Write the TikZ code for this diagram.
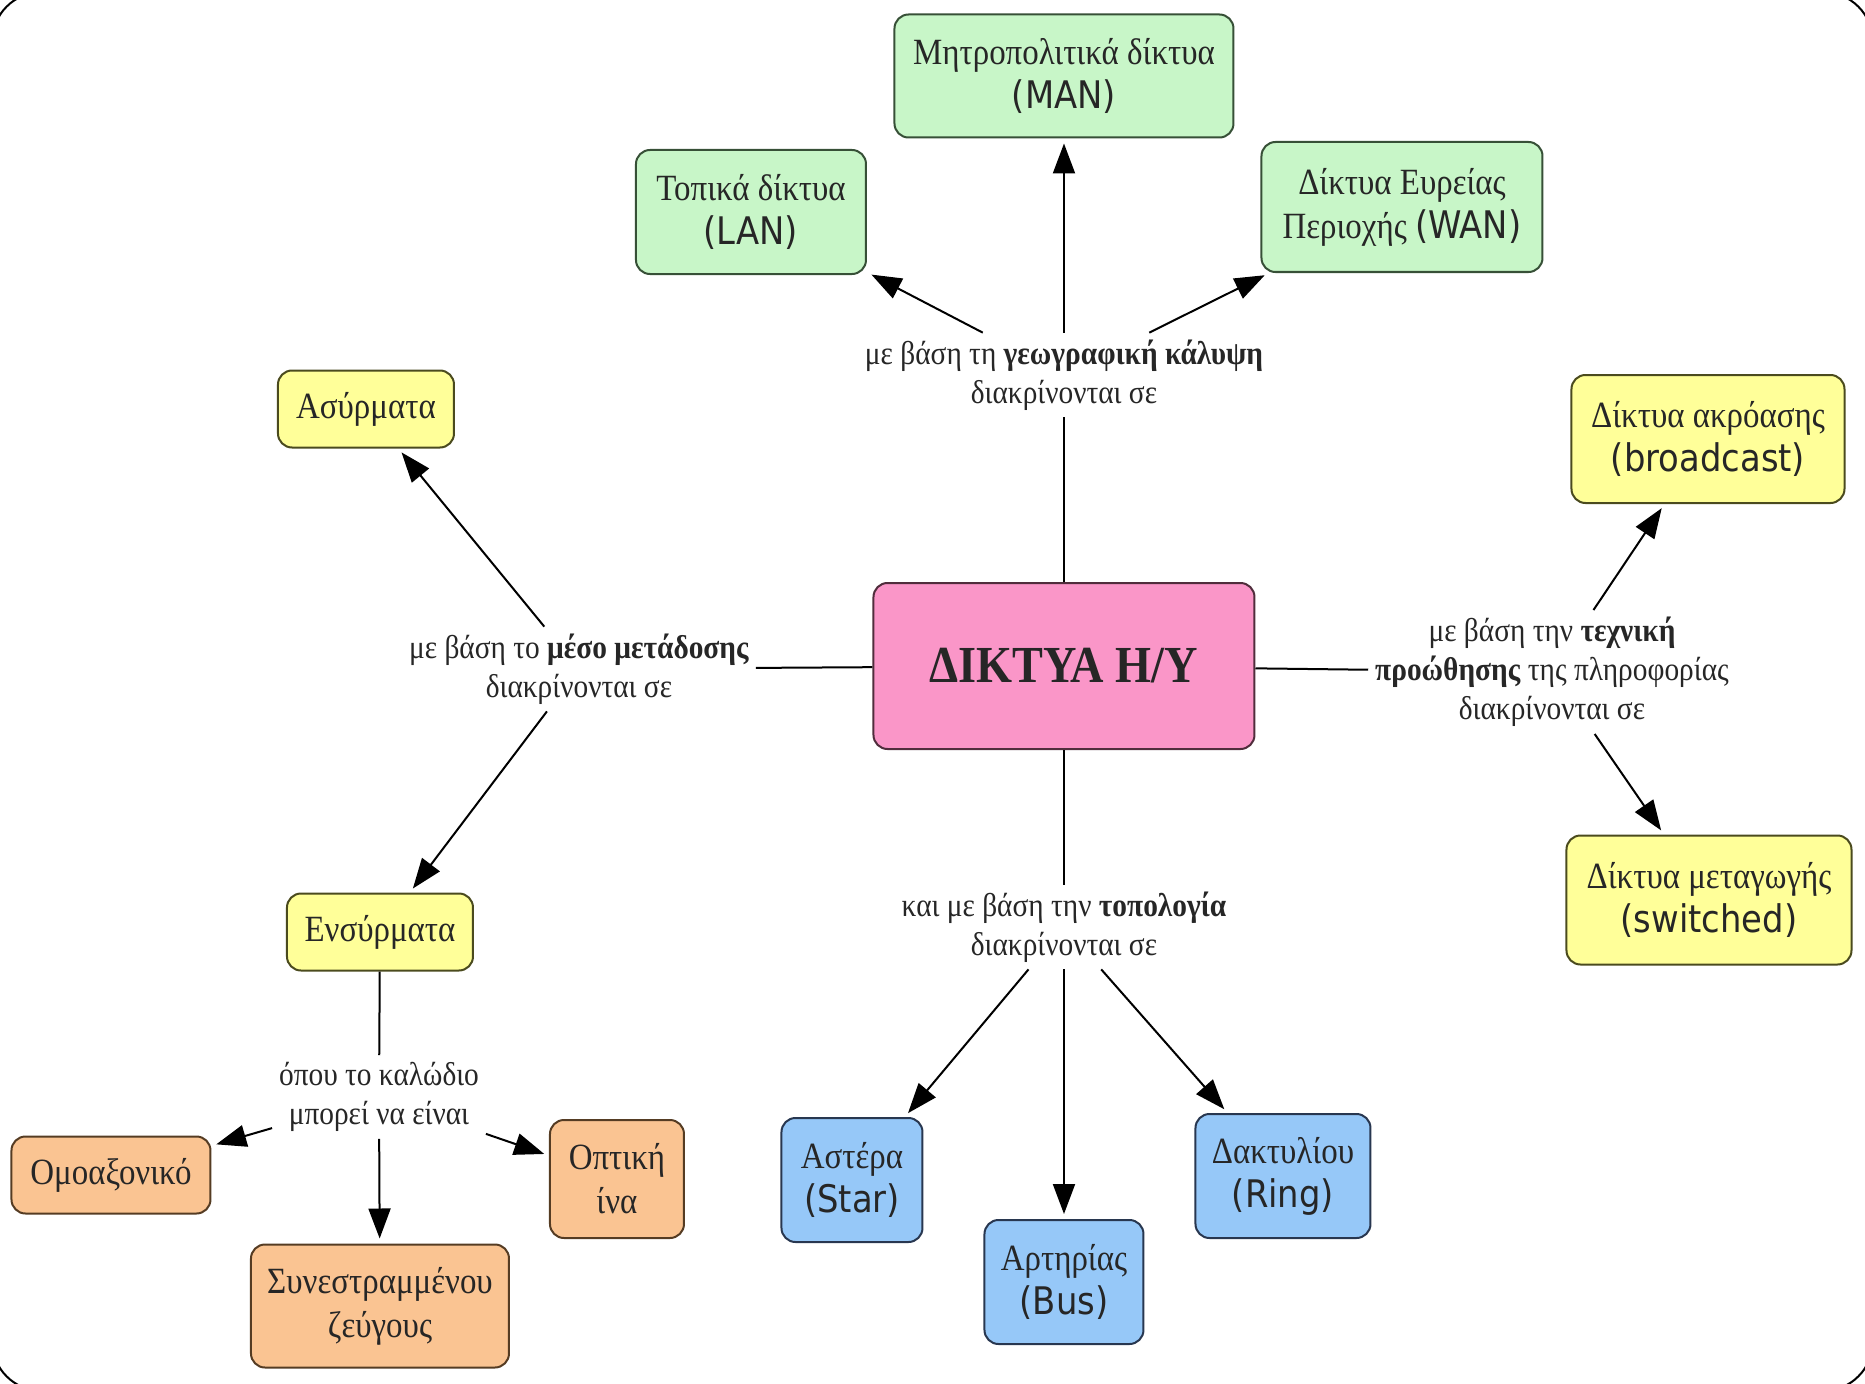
\documentclass[tikz,border=0pt]{standalone}
\usepackage{fontspec}
\setmainfont{Liberation Serif}[FakeStretch=0.89]
\newfontfamily\engfont{DejaVu Sans}[FakeStretch=0.89]
\usetikzlibrary{arrows.meta}
\definecolor{geofill}{RGB}{200,246,200}
\definecolor{geodraw}{RGB}{55,80,55}
\definecolor{netfill}{RGB}{250,150,200}
\definecolor{netdraw}{RGB}{80,45,60}
\definecolor{medfill}{RGB}{255,255,153}
\definecolor{meddraw}{RGB}{75,75,30}
\definecolor{cabfill}{RGB}{250,196,146}
\definecolor{cabdraw}{RGB}{85,60,35}
\definecolor{topfill}{RGB}{150,200,248}
\definecolor{topdraw}{RGB}{40,55,80}
\tikzstyle{connect}=[-{Triangle[length=15pt,width=11pt]}, shorten >=2.5pt]
\tikzstyle{plain}=[-]
\tikzstyle{concept}=[draw, rounded corners=7pt, line width=1pt, align=center, inner sep=2pt, text=black!85, font=\fontsize{18.5}{22}\selectfont]
\tikzstyle{phrase}=[align=center, inner sep=3pt, text=black!85, font=\fontsize{16.5}{19.6}\selectfont]
\tikzstyle{geo}=[concept, fill=geofill, draw=geodraw]
\tikzstyle{med}=[concept, fill=medfill, draw=meddraw]
\tikzstyle{cab}=[concept, fill=cabfill, draw=cabdraw]
\tikzstyle{topo}=[concept, fill=topfill, draw=topdraw]
\newcommand{\eng}[1]{{\engfont\fontsize{19}{22}\selectfont #1}}

\begin{document}
\begin{tikzpicture}[x=1pt, y=1pt, line width=1pt]

    \useasboundingbox (-532,333) rectangle (400.5,-358.5);
    \draw[rounded corners=25pt] (-536,337) rectangle (404.5,-362.5);

    % centre
    \node[concept, fill=netfill, draw=netdraw, minimum width=190.5pt, minimum height=83pt,
          font=\fontsize{26}{30}\selectfont\bfseries] (net) at (0,0) {ΔΙΚΤΥΑ Η/Υ};

    % geographic coverage
    \node[phrase] (geolbl) at (0,145.5) {με βάση τη \textbf{γεωγραφική κάλυψη}\\διακρίνονται σε};
    \node[geo, minimum width=169.5pt, minimum height=61.5pt] (man) at (0,295) {Μητροπολιτικά δίκτυα\\\eng{(MAN)}};
    \node[geo, minimum width=115pt, minimum height=62pt] (lan) at (-156.5,227) {Τοπικά δίκτυα\\\eng{(LAN)}};
    \node[geo, minimum width=140.5pt, minimum height=65pt] (wan) at (169,229.5) {Δίκτυα Ευρείας\\Περιοχής \eng{(WAN)}};

    % transmission medium
    \node[phrase] (medlbl) at (-242.5,-1.5) {με βάση το \textbf{μέσο μετάδοσης}\\διακρίνονται σε};
    \node[med, minimum width=88pt, minimum height=38.5pt] (wireless) at (-349,128.5) {Ασύρματα};
    \node[med, minimum width=93pt, minimum height=38.5pt] (wired) at (-342,-133) {Ενσύρματα};

    % cable
    \node[phrase] (cablelbl) at (-342.5,-215.5) {όπου το καλώδιο\\μπορεί να είναι};
    \node[cab, minimum width=99.5pt, minimum height=38.5pt] (coax) at (-476.5,-254.5) {Ομοαξονικό};
    \node[cab, minimum width=67pt, minimum height=59pt] (fiber) at (-223.5,-256.5) {Οπτική\\ίνα};
    \node[cab, minimum width=129pt, minimum height=61.5pt] (twisted) at (-342,-320) {Συνεστραμμένου\\ζεύγους};

    % forwarding technique
    \node[phrase] (fwdlbl) at (244,-3) {με βάση την \textbf{τεχνική}\\\textbf{προώθησης} της πληροφορίας\\διακρίνονται σε};
    \node[med, minimum width=136.5pt, minimum height=64pt] (bcast) at (322,113.5) {Δίκτυα ακρόασης\\\eng{(broadcast)}};
    \node[med, minimum width=142.5pt, minimum height=64.5pt] (switched) at (322.5,-117) {Δίκτυα μεταγωγής\\\eng{(switched)}};

    % topology
    \node[phrase] (topolbl) at (0,-130.5) {και με βάση την \textbf{τοπολογία}\\διακρίνονται σε};
    \node[topo, minimum width=70.5pt, minimum height=62pt] (star) at (-106,-257) {Αστέρα\\\eng{(Star)}};
    \node[topo, minimum width=79.5pt, minimum height=62pt] (bus) at (0,-308) {Αρτηρίας\\\eng{(Bus)}};
    \node[topo, minimum width=87.5pt, minimum height=62pt] (ring) at (109.5,-255) {Δακτυλίου\\\eng{(Ring)}};

    % Connect the nodes
    \path
        (net) edge [plain] (geolbl)
        (geolbl) edge [connect] (man)
        (geolbl) edge [connect] (lan)
        (geolbl) edge [connect] (wan)

        (net) edge [plain] (medlbl)
        (medlbl) edge [connect] (wireless)
        (medlbl) edge [connect] (wired)

        (wired) edge [plain] (cablelbl)
        (cablelbl) edge [connect] (coax)
        (cablelbl) edge [connect] (fiber)
        (cablelbl) edge [connect] (twisted)

        (net) edge [plain] (fwdlbl)
        (fwdlbl) edge [connect] (bcast)
        (fwdlbl) edge [connect] (switched)

        (net) edge [plain] (topolbl)
        (topolbl) edge [connect] (star)
        (topolbl) edge [connect] (bus)
        (topolbl) edge [connect] (ring)
        ;
\end{tikzpicture}
\end{document}
